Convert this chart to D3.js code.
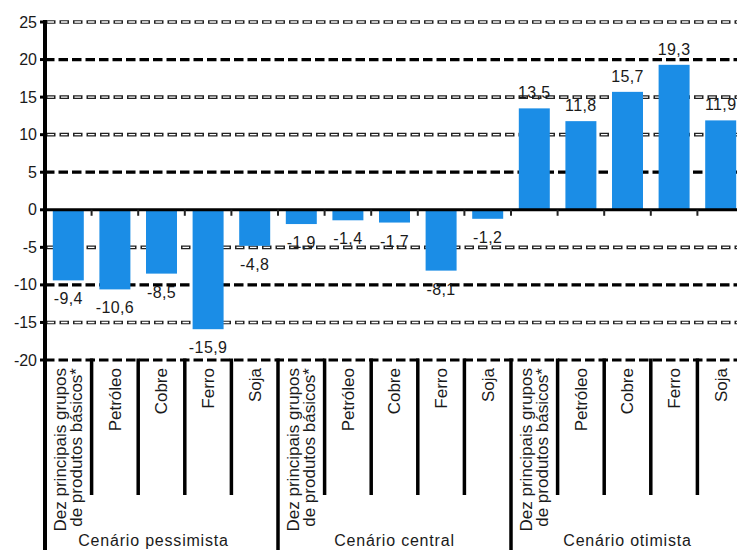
<!DOCTYPE html>
<html>
<head>
<meta charset="utf-8">
<script src="https://cdn.jsdelivr.net/npm/d3@7"></script>
<style>
  html, body { margin: 0; padding: 0; background: #fff; }
  svg { display: block; }
  text { font-family: "Liberation Sans", Arial, Helvetica, sans-serif; fill: #1a1a1a; }
</style>
</head>
<body>
<svg id="chart" width="737" height="550"></svg>
<script>
// Variação projetada dos preços das commodities, por cenário (%)
const scenarios = ["Cenário pessimista", "Cenário central", "Cenário otimista"];
const products = ["Dez principais grupos|de produtos básicos*", "Petróleo", "Cobre", "Ferro", "Soja"];
const pessimista = [-9.4, -10.6, -8.5, -15.9, -4.8];
const central = [-1.9, -1.4, -1.7, -8.1, -1.2];
const otimista = [13.5, 11.8, 15.7, 19.3, 11.9];
const yTicks = [25, 20, 15, 10, 5, 0, -5, -10, -15, -20];
const boldTicks = [20, 5, -10, -20];

const seriesValues = [pessimista, central, otimista];
const rows = [];
scenarios.forEach((s, si) => {
  products.forEach((p, pi) => {
    rows.push({ scenario: s, si, product: p, value: seriesValues[si][pi], key: si + "-" + pi });
  });
});

const W = 737, H = 550;
const svg = d3.select("#chart");

const left = 45;
const step = 46.6;
const y = d3.scaleLinear().domain([-20, 25]).range([360, 22]);
const x = d3.scaleBand()
  .domain(rows.map(d => d.key))
  .range([left, left + step * rows.length])
  .paddingInner(0.335)
  .paddingOuter(0.1675);

const fmt = d3.formatLocale({ decimal: ",", thousands: ".", grouping: [3], currency: ["", ""], minus: "-" }).format(".1f");
const blue = "#1b8de6";
const boundary = i => x.range()[0] + i * x.step();

// Dashed grid behind the bars: bold dashes and outlined dashes alternate
const gridG = svg.append("g");
yTicks.filter(t => t !== 0).forEach(t => {
  const yy = y(t);
  if (boldTicks.includes(t)) {
    gridG.append("line")
      .attr("x1", left).attr("x2", W).attr("y1", yy).attr("y2", yy)
      .attr("stroke", "#000").attr("stroke-width", 3.2)
      .attr("stroke-dasharray", "9.5,4");
  } else {
    gridG.append("line")
      .attr("x1", left + 1).attr("x2", W).attr("y1", yy).attr("y2", yy)
      .attr("stroke", "#222").attr("stroke-width", 3.6)
      .attr("stroke-dasharray", "9.5,4");
    gridG.append("line")
      .attr("x1", left + 1).attr("x2", W).attr("y1", yy).attr("y2", yy)
      .attr("stroke", "#fff").attr("stroke-width", 1.4)
      .attr("stroke-dasharray", "6.5,7")
      .attr("stroke-dashoffset", -1.5);
  }
});

// Bars
svg.append("g").selectAll("rect")
  .data(rows)
  .join("rect")
  .attr("x", d => x(d.key))
  .attr("width", x.bandwidth())
  .attr("y", d => y(Math.max(0, d.value)))
  .attr("height", d => Math.abs(y(d.value) - y(0)))
  .attr("fill", blue);

// Zero line and small ticks below it at category boundaries
svg.append("line")
  .attr("x1", left).attr("x2", W).attr("y1", y(0)).attr("y2", y(0))
  .attr("stroke", "#000").attr("stroke-width", 3);
svg.append("g").selectAll("line")
  .data(d3.range(1, rows.length))
  .join("line")
  .attr("x1", boundary).attr("x2", boundary)
  .attr("y1", y(0)).attr("y2", y(0) + 6)
  .attr("stroke", "#222").attr("stroke-width", 2);

// Value labels
svg.append("g").selectAll("text")
  .data(rows)
  .join("text")
  .attr("x", d => x(d.key) + x.bandwidth() / 2)
  .attr("y", d => d.value >= 0 ? y(d.value) - 10 : y(d.value) + 24)
  .attr("text-anchor", "middle")
  .attr("font-size", 16)
  .attr("letter-spacing", 0.4)
  .text(d => fmt(d.value));

// Y axis
const yAxis = svg.append("g");
yAxis.append("line")
  .attr("x1", left).attr("x2", left).attr("y1", y(25) - 2).attr("y2", H)
  .attr("stroke", "#000").attr("stroke-width", 4);
yAxis.selectAll("line.tick")
  .data(yTicks)
  .join("line")
  .attr("class", "tick")
  .attr("x1", left - 5).attr("x2", left)
  .attr("y1", d => y(d)).attr("y2", d => y(d))
  .attr("stroke", "#000").attr("stroke-width", 3);
yAxis.selectAll("text")
  .data(yTicks)
  .join("text")
  .attr("x", 37)
  .attr("y", d => y(d))
  .attr("dy", "0.35em")
  .attr("text-anchor", "end")
  .attr("font-size", 16)
  .text(d => d);

// Category dividers below the plot
svg.append("g").selectAll("line")
  .data(d3.range(1, rows.length))
  .join("line")
  .attr("x1", boundary).attr("x2", boundary)
  .attr("y1", y(-20) - 1.5)
  .attr("y2", i => i % products.length === 0 ? H : 495)
  .attr("stroke", "#000").attr("stroke-width", 3.5);

// Rotated product labels
const catG = svg.append("g").selectAll("g")
  .data(rows)
  .join("g")
  .attr("transform", d => `translate(${x(d.key) + x.bandwidth() / 2},368) rotate(-90)`);
catG.each(function (d) {
  const lines = d.product.split("|");
  const g = d3.select(this);
  lines.forEach((ln, li) => {
    const off = lines.length === 1 ? 0 : (li === 0 ? -8 : 8);
    g.append("text")
      .attr("x", 0)
      .attr("y", off)
      .attr("dy", "0.35em")
      .attr("text-anchor", "end")
      .attr("font-size", 17)
      .text(ln);
  });
});

// Scenario labels
svg.append("g").selectAll("text")
  .data(scenarios)
  .join("text")
  .attr("x", (s, i) => (boundary(i * products.length) + boundary((i + 1) * products.length)) / 2 - (i === 0 ? 8 : 0))
  .attr("y", 546)
  .attr("text-anchor", "middle")
  .attr("font-size", 16)
  .attr("letter-spacing", 0.8)
  .text(s => s);
</script>
</body>
</html>
